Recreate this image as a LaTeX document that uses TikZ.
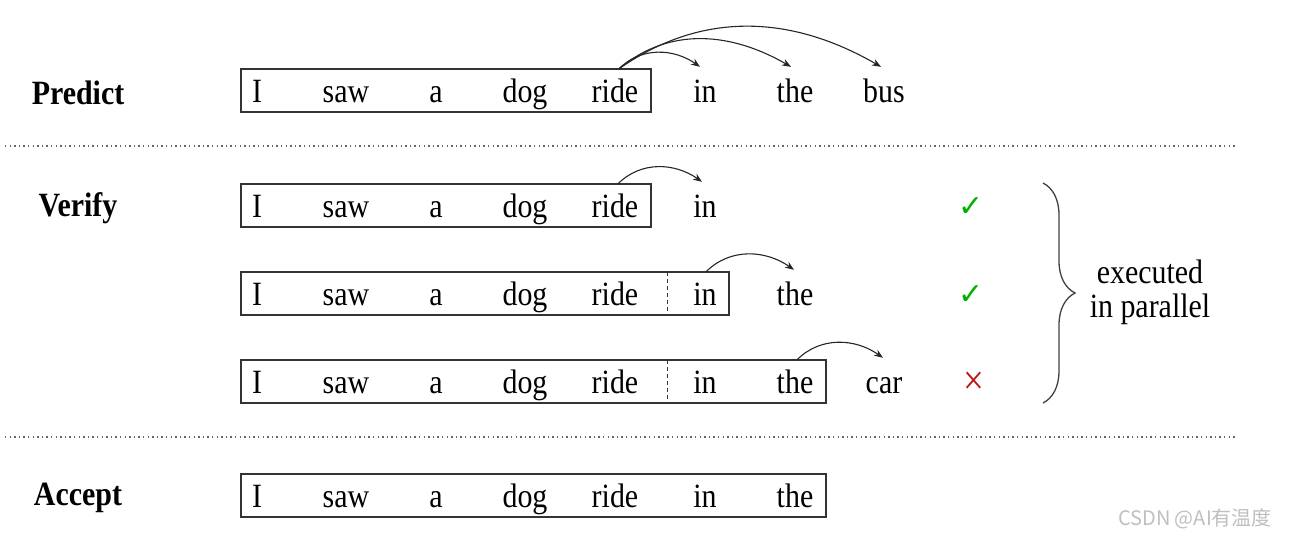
\documentclass[tikz,border=0pt]{standalone}
\usepackage{fontspec}
\setmainfont{Liberation Serif}[FakeStretch=0.88]
\newfontfamily\symfont{DejaVu Sans}
\newfontfamily\cjkfont{Noto Sans CJK SC}
\usetikzlibrary{arrows.meta,decorations.pathreplacing}
\begin{document}
\begin{tikzpicture}[x=1pt,y=1pt,
  word/.style={font=\fontsize{34}{36}\selectfont, text height=28pt, text depth=4pt, inner sep=0pt, minimum height=43pt, anchor=center},
  label/.style={font=\fontsize{34}{36}\selectfont\bfseries, inner sep=0pt},
  seqbox/.style={draw=black!80, line width=1.2pt, minimum height=43pt, inner sep=0pt},
  sep/.style={draw=black!60, line width=1.5pt, dash pattern=on 1.3pt off 3.3pt},
  arr/.style={-{Stealth[length=9pt,width=7pt]}, line width=1.1pt, black!85},
  divider/.style={black!80, line width=1pt, dash pattern=on 4pt off 3pt},
  okmark/.style={font=\symfont\fontsize{30}{30}\selectfont, inner sep=0pt},
]
\useasboundingbox (0,0) rectangle (1291,-541);

% separators
\coordinate (s1a) at (5,-146); \coordinate (s1b) at (1235,-146);
\coordinate (s2a) at (5,-437); \coordinate (s2b) at (1235,-437);
\draw[sep] (s1a) -- (s1b);
\draw[sep] (s2a) -- (s2b);

% labels
\node[label] (lp) at (78,-93) {Predict};
\node[label] (lv) at (78,-208) {Verify};
\node[label] (la) at (78,-498) {Accept};

% boxes
\node[seqbox, minimum width=410pt] (b1) at (446,-90.5) {};
\node[seqbox, minimum width=410pt] (b2) at (446,-205.5) {};
\node[seqbox, minimum width=488pt] (b3) at (485,-293.5) {};
\node[seqbox, minimum width=585pt] (b4) at (533.5,-381.5) {};
\node[seqbox, minimum width=585pt] (b5) at (533.5,-495.5) {};

% dashed dividers
\draw[divider] (667,-272) -- (667,-315);
\draw[divider] (667,-360) -- (667,-403);

% words
\foreach \r/\y in {1/-90.5,2/-205.5,3/-293.5,4/-381.5,5/-495.5}{
  \node[word] (w\r-1) at (257,\y) {I};
  \node[word] (w\r-2) at (346,\y) {saw};
  \node[word] (w\r-3) at (436,\y) {a};
  \node[word] (w\r-4) at (525,\y) {dog};
  \node[word] (w\r-5) at (615,\y) {ride};
  \node[word] (w\r-6) at (705,\y) {in};
}
\node[word] (w1-7) at (795,-90.5) {the};
\node[word] (w1-8) at (884,-90.5) {bus};
\node[word] (w3-7) at (795,-293.5) {the};
\node[word] (w4-7) at (795,-381.5) {the};
\node[word] (w4-8) at (884,-381.5) {car};
\node[word] (w5-7) at (795,-495.5) {the};

% arrows
\draw[arr] ([xshift=4pt]w1-5.north) to[out=45,in=145] ([xshift=-5pt,yshift=2pt]w1-6.north);
\draw[arr] ([xshift=4pt]w1-5.north) to[out=40,in=150] ([xshift=-4pt,yshift=2pt]w1-7.north);
\draw[arr] ([xshift=4pt]w1-5.north) to[out=35,in=150] ([xshift=-3pt,yshift=2pt]w1-8.north);
\draw[arr] ([xshift=3pt]w2-5.north) to[out=45,in=145] ([xshift=-3pt,yshift=2pt]w2-6.north);
\draw[arr] ([xshift=1pt]w3-6.north) to[out=45,in=145] ([xshift=-1pt,yshift=2pt]w3-7.north);
\draw[arr] ([xshift=2pt]w4-7.north) to[out=45,in=145] ([xshift=-1pt,yshift=2pt]w4-8.north);

% marks
\node[okmark, text=green!70!black] (c1) at (971,-207) {✓};
\node[okmark, text=green!70!black] (c2) at (971,-295) {✓};
\node[font=\fontsize{42}{42}\selectfont, text=red!70!black!90, inner sep=0pt] (c3) at (974,-383) {×};

% brace
\coordinate (bt) at (1043,-183);
\coordinate (bb) at (1043,-403);
\draw[decorate, decoration={brace, amplitude=32pt, aspect=0.5}, line width=1.3pt, black!75] (bt) -- (bb);
\node[font=\fontsize{34}{34}\selectfont, align=center, inner sep=0pt] (ex) at (1150,-292) {executed\\in parallel};

% watermark
\node[font=\cjkfont\fontsize{20}{20}\selectfont, text=black!25, inner sep=0pt] (wm) at (1195,-519) {CSDN @AI有温度};
\end{tikzpicture}
\end{document}
